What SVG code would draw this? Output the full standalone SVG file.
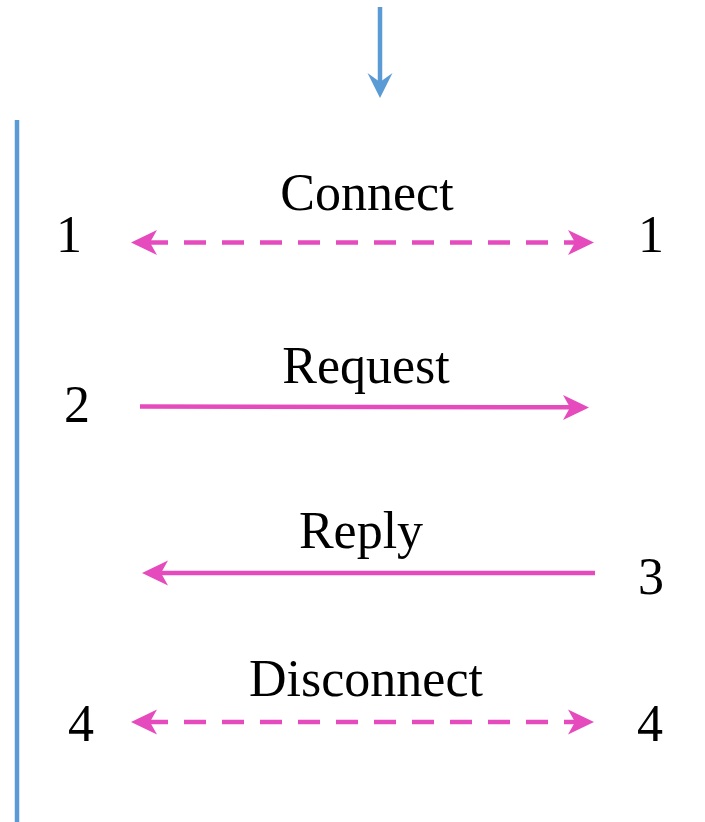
<svg xmlns="http://www.w3.org/2000/svg" width="705" height="822" viewBox="0 0 705 822">
<style>
.lbl{font-family:"Liberation Serif","Times New Roman",serif;font-size:52px;fill:#000;text-anchor:middle}
.msg{stroke:#E64BBE;stroke-width:4.5;fill:none}
.dash{stroke-dasharray:22 16;stroke-dashoffset:4}
.ph{fill:#E64BBE}
.blue{stroke:#5B9BD5;stroke-width:4.5;fill:none}
.bh{fill:#5B9BD5}
</style>
<g id="connectors">
<line class="blue" x1="380" y1="7" x2="380" y2="84"/>
<path class="bh" d="M380,98 L367.5,73 L380,82 L392.5,73 Z"/>
<line id="lifeline" class="blue" x1="17" y1="120" x2="17" y2="822" stroke-width="4"/>
<line class="msg dash" x1="150" y1="242.5" x2="575" y2="242.5"/>
<path class="ph" d="M131,242.5 L157,230 L150,242.5 L157,255 Z"/>
<path class="ph" d="M594,242.5 L568,230 L575,242.5 L568,255 Z"/>
<line class="msg" x1="140" y1="406.5" x2="571" y2="407.3"/>
<path class="ph" d="M589,407.5 L563,395 L570,407.5 L563,420 Z"/>
<line class="msg" x1="595" y1="573" x2="160" y2="573"/>
<path class="ph" d="M142,573 L168,560.5 L161,573 L168,585.5 Z"/>
<line class="msg dash" x1="150" y1="722" x2="575" y2="722"/>
<path class="ph" d="M131,722 L157,709.5 L150,722 L157,734.5 Z"/>
<path class="ph" d="M594,722 L568,709.5 L575,722 L568,734.5 Z"/>
</g>
<g id="connect"><text class="lbl" x="367" y="210">Connect</text></g>
<g id="request"><text class="lbl" x="366" y="383">Request</text></g>
<g id="reply"><text class="lbl" x="361" y="548">Reply</text></g>
<g id="disconnect"><text class="lbl" x="366" y="696">Disconnect</text></g>
<g id="n1l"><text class="lbl" x="69" y="252">1</text></g>
<g id="n1r"><text class="lbl" x="651" y="252">1</text></g>
<g id="n2"><text class="lbl" x="77" y="422">2</text></g>
<g id="n3"><text class="lbl" x="651" y="594">3</text></g>
<g id="n4l"><text class="lbl" x="81" y="741">4</text></g>
<g id="n4r"><text class="lbl" x="650" y="741">4</text></g>
</svg>
